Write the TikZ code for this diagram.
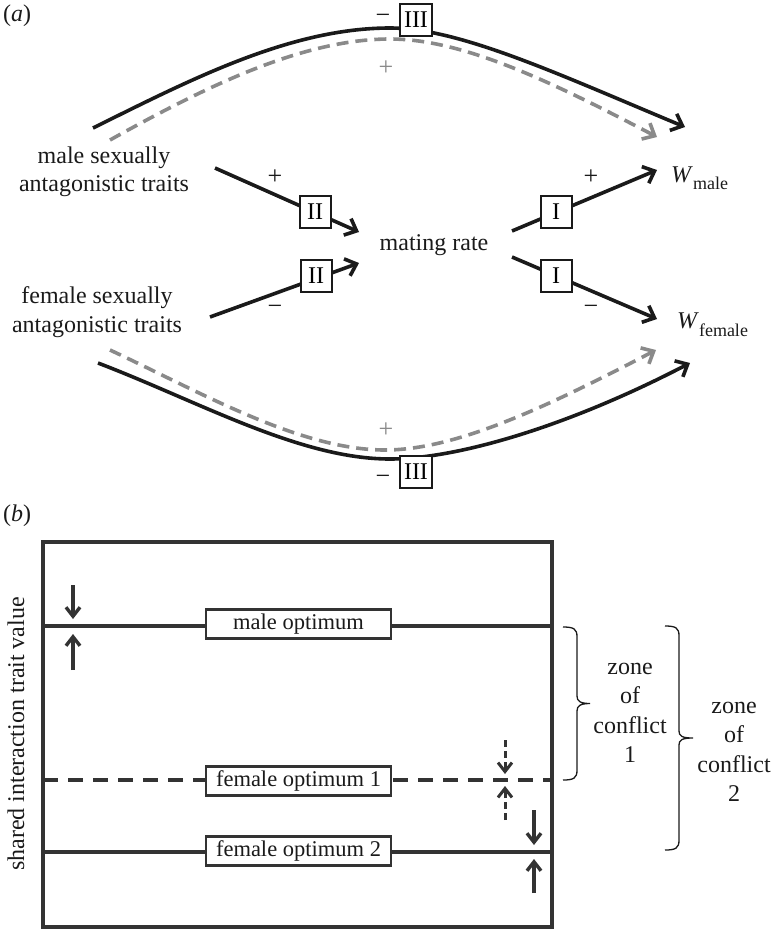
\documentclass[tikz,border=0pt]{standalone}
\usepackage{fontspec}
\setmainfont{Liberation Serif}
\usetikzlibrary{arrows.meta}
\definecolor{ink}{HTML}{1A1A1A}
\definecolor{dashgray}{HTML}{8A8A8A}
\definecolor{frameink}{HTML}{333333}
\begin{document}
\begin{tikzpicture}[x=1pt,y=-1pt,
  txt/.style={font=\fontsize{24}{28}\selectfont, inner sep=0pt, text=ink},
  sign/.style={font=\fontsize{26}{28}\selectfont, inner sep=0pt, text=ink},
  gsign/.style={font=\fontsize{26}{28}\selectfont, inner sep=0pt, text=dashgray},
  rbox/.style={draw=ink, line width=2pt, fill=white, minimum width=32pt, minimum height=32pt, inner sep=0pt, font=\fontsize{24}{28}\selectfont},
  blk/.style={line width=3.6pt, draw=ink},
  tip/.style={-{Straight Barb[length=10pt,width=18pt]}},
  gdash/.style={line width=3.6pt, draw=dashgray, dash pattern=on 12pt off 7pt},
  frame/.style={line width=3.4pt, draw=frameink},
  optbox/.style={draw=frameink, line width=2.8pt, fill=white, minimum width=185pt, minimum height=29pt, inner sep=0pt, font=\fontsize{22.5}{26}\selectfont, text=ink},
  vtip/.style={-{Straight Barb[length=9pt,width=14pt]}},
  brc/.style={line width=1.3pt, draw=ink},
  zone/.style={font=\fontsize{24}{29.5}\selectfont, align=center, inner sep=0pt, text=ink}
]
\useasboundingbox (0,0) rectangle (772,930);

% ---------------- (a) ----------------
\node[txt] (lab a) at (17,16) {(\textit{a})};

\node[txt, align=center, font=\fontsize{24}{28.5}\selectfont] (male) at (104,172) {male sexually\\antagonistic traits};
\node[txt, align=center, font=\fontsize{24}{28.5}\selectfont] (female) at (97,312) {female sexually\\antagonistic traits};
\node[txt] (mr) at (434,245) {mating rate};
\node[txt, anchor=base west] (wm) at (671,182) {\textit{W}\raisebox{-7pt}{\fontsize{18}{20}\selectfont male}};
\node[txt, anchor=base west] (wf) at (677,328) {\textit{W}\raisebox{-8pt}{\fontsize{18}{20}\selectfont female}};

% curve coordinates
\coordinate (tb0) at (93,128);
\coordinate (tb1) at (685,127);
\coordinate (tg0) at (110,140);
\coordinate (tg1) at (657,137);
\coordinate (bb0) at (98,363);
\coordinate (bb1) at (690,363);
\coordinate (bg0) at (110,350);
\coordinate (bg1) at (656,350);

% gray dashed curves
\draw[gdash, tip] (tg0) .. controls (200,90) and (300,39) .. (390,39)
  .. controls (460,39) and (545,78) .. (tg1);
\draw[gdash, tip] (bg0) .. controls (200,392) and (300,450) .. (385,450)
  .. controls (455,450) and (545,408) .. (bg1);

% black curves
\draw[blk, tip] (tb0) .. controls (190,80) and (290,28) .. (390,28)
  .. controls (460,28) and (560,75) .. (tb1);
\draw[blk, tip] (bb0) .. controls (200,402) and (300,459) .. (390,459)
  .. controls (455,459) and (565,428) .. (bb1);

% III boxes
\node[rbox] (t3) at (416,20) {III};
\node[rbox] (b3) at (416,472) {III};
\node[sign] (t3m) at (383,19) {−};
\node[gsign] (t3p) at (386,68) {+};
\node[gsign] (b3p) at (386,430) {+};
\node[sign] (b3m) at (383,480) {−};

% middle straight arrows
\coordinate (s1) at (215,168);
\coordinate (e1) at (359,232);
\coordinate (s2) at (210,317);
\coordinate (e2) at (359,263);
\coordinate (s3) at (512,231);
\coordinate (e3) at (657,170);
\coordinate (s4) at (512,257);
\coordinate (e4) at (657,319);

\draw[blk, tip] (s1) -- (e1);
\draw[blk, tip] (s2) -- (e2);
\draw[blk, tip] (s3) -- (e3);
\draw[blk, tip] (s4) -- (e4);

\node[rbox, minimum width=31pt] (II1) at (315,212) {II};
\node[rbox, minimum width=31pt] (II2) at (316,276) {II};
\node[rbox, minimum width=31pt] (I1) at (556,212) {I};
\node[rbox, minimum width=31pt] (I2) at (556,276) {I};

\node[sign] (p1) at (275,177) {+};
\node[sign] (m1) at (275,310) {−};
\node[sign] (p2) at (591,177) {+};
\node[sign] (m2) at (591,310) {−};

% ---------------- (b) ----------------
\node[txt] (lab b) at (17,516) {(\textit{b})};

\draw[frame] (43,542) rectangle (552,927);

\coordinate (mo0) at (43,626);
\coordinate (mo1) at (552,626);
\coordinate (f10) at (43,780);
\coordinate (f11) at (552,780);
\coordinate (f20) at (43,852);
\coordinate (f21) at (552,852);
\draw[frame] (mo0) -- (mo1);
\draw[frame, dash pattern=on 15pt off 10pt] (f10) -- (f11);
\draw[frame] (f20) -- (f21);

\node[optbox] (mo) at (298.5,624) {male optimum};
\node[optbox] (fo1) at (298.5,781) {female optimum 1};
\node[optbox] (fo2) at (298.5,851) {female optimum 2};

% convergence arrows
\coordinate (a1s) at (73,585);
\coordinate (a1e) at (73,619);
\coordinate (a2s) at (73,670);
\coordinate (a2e) at (73,634);
\draw[frame, vtip] (a1s) -- (a1e);
\draw[frame, vtip] (a2s) -- (a2e);

\coordinate (a3s) at (505,740);
\coordinate (a3e) at (505,774);
\coordinate (a4s) at (505,820);
\coordinate (a4e) at (505,786);
\draw[frame, line width=3pt, dash pattern=on 7pt off 4pt, vtip] (a3s) -- (a3e);
\draw[frame, line width=3pt, dash pattern=on 7pt off 4pt, vtip] (a4s) -- (a4e);

\coordinate (a5s) at (534,810);
\coordinate (a5e) at (534,845);
\coordinate (a6s) at (534,893);
\coordinate (a6e) at (534,859);
\draw[frame, vtip] (a5s) -- (a5e);
\draw[frame, vtip] (a6s) -- (a6e);

% braces
\coordinate (br1a) at (563,627);
\coordinate (br1b) at (563,780);
\coordinate (br2a) at (665,626);
\coordinate (br2b) at (665,850);
\draw[brc] (br1a) .. controls (574,627) and (577,629) .. (577,637) -- (577,696)
  .. controls (577,701) and (580,703.5) .. (590,703.5)
  .. controls (580,703.5) and (577,706) .. (577,711) -- (577,770)
  .. controls (577,778) and (574,780) .. (br1b);
\draw[brc] (br2a) .. controls (676,626) and (679,628) .. (679,636) -- (679,731)
  .. controls (679,736) and (682,738) .. (693,738)
  .. controls (682,738) and (679,740) .. (679,745) -- (679,840)
  .. controls (679,848) and (676,850) .. (br2b);

\node[zone] (z1) at (630,713) {zone\\of\\conflict\\1};
\node[zone] (z2) at (734,752) {zone\\of\\conflict\\2};

\node[txt, rotate=90] (ylab) at (16,734) {shared interaction trait value};
\end{tikzpicture}
\end{document}
